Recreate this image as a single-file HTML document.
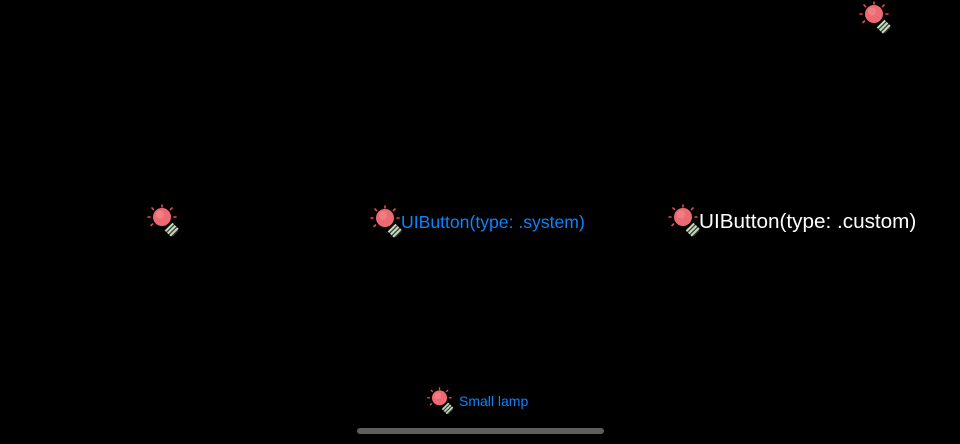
<!DOCTYPE html>
<html><head><style>
html,body{margin:0;padding:0;background:#000;width:960px;height:444px;overflow:hidden;position:relative;font-family:"Liberation Sans",sans-serif}
.t{position:absolute;white-space:nowrap}
svg.l{position:absolute;overflow:visible}
</style></head><body>
<svg width="0" height="0" style="position:absolute">
<defs>
<g id="lamp">
<g stroke="#e5484d" stroke-width="1.6" stroke-linecap="round">
<line x1="12" y1="-1" x2="12" y2="-3"/>
<line x1="3.5" y1="1.5" x2="2" y2="0"/>
<line x1="20.5" y1="1.5" x2="22" y2="0"/>
<line x1="0" y1="9" x2="-2" y2="9"/>
<line x1="24" y1="9" x2="26" y2="9"/>
<line x1="2.5" y1="16" x2="1" y2="17.5"/>
</g>
<g transform="translate(20,20) rotate(-45)">
<rect x="-5.5" y="-2" width="11" height="10" rx="2.5" fill="#3a3a3a"/>
<rect x="-5.5" y="-2" width="11" height="2" fill="#c4dcb8"/>
<rect x="-5.5" y="1.3" width="11" height="2" fill="#c4dcb8"/>
<rect x="-5.5" y="4.6" width="11" height="2" fill="#c4dcb8"/>
</g>
<circle cx="12" cy="9" r="9" fill="#ee6a72"/>
<circle cx="10" cy="6.5" r="4" fill="#f58f94" opacity="0.5"/>
</g>
</defs></svg>

<svg class="l" style="left:147px;top:204px" width="30" height="30" viewBox="-3 -4 30 30"><use href="#lamp"/></svg>
<svg class="l" style="left:859px;top:1px" width="30" height="30" viewBox="-3 -4 30 30"><use href="#lamp"/></svg>
<svg class="l" style="left:370px;top:205px" width="30" height="30" viewBox="-3 -4 30 30"><use href="#lamp"/></svg>
<svg class="l" style="left:668px;top:204px" width="30" height="30" viewBox="-3 -4 30 30"><use href="#lamp"/></svg>
<svg class="l" style="left:427px;top:387px" width="25" height="25" viewBox="-3 -4 30 30"><use href="#lamp"/></svg>

<div class="t" style="left:401px;top:212px;font-size:17.6px;color:#0a84ff">UIButton(type: .system)</div>
<div class="t" style="left:699px;top:210px;font-size:20.7px;color:#fff">UIButton(type: .custom)</div>
<div class="t" style="left:459px;top:393px;font-size:14px;color:#0a84ff">Small lamp</div>

<div style="position:absolute;left:357px;top:428px;width:247px;height:6px;border-radius:3px;background:#5e5e5e"></div>
</body></html>
